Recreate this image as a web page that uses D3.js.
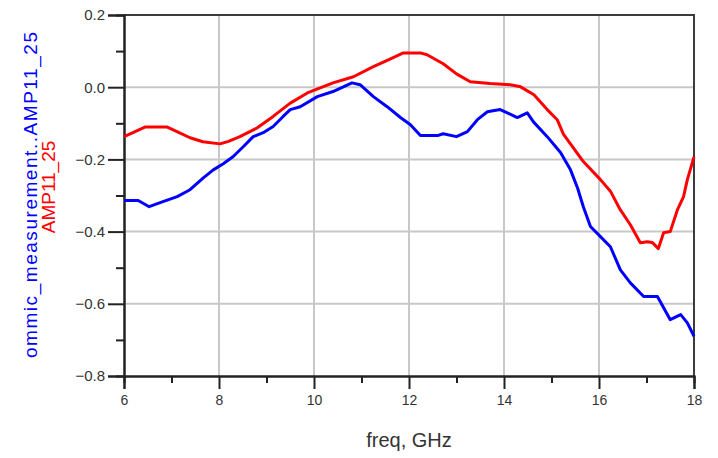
<!DOCTYPE html>
<html>
<head>
<meta charset="utf-8">
<script src="https://cdn.jsdelivr.net/npm/d3@7"></script>
<style>
  body { margin: 0; background: #fff; }
  svg { display: block; font-family: Arial, "Liberation Sans", sans-serif; }
</style>
</head>
<body>
<div id="chart"></div>
<script>
// measured curves, freq in GHz
var freqA = [6.0, 6.2, 6.45, 6.9, 7.15, 7.39, 7.66, 8.02, 8.2, 8.44, 8.8, 9.14, 9.5, 9.86, 10.13, 10.4, 10.83, 11.25, 11.6, 11.88,
  12.24, 12.38, 12.72, 13.0, 13.29, 13.71, 14.13, 14.35, 14.63, 14.91, 15.12, 15.25, 15.46, 15.67, 16.03, 16.24, 16.45, 16.66,
  16.87, 17.02, 17.12, 17.25, 17.36, 17.5, 17.65, 17.78, 17.86, 18.0];
var amp11 = [-0.137, -0.125, -0.11, -0.11, -0.125, -0.14, -0.151, -0.157, -0.15, -0.137, -0.113, -0.081, -0.044, -0.016, -0.002,
  0.012, 0.029, 0.057, 0.078, 0.095, 0.095, 0.09, 0.065, 0.037, 0.015, 0.01, 0.007, 0.001, -0.021, -0.062, -0.09, -0.13, -0.168,
  -0.206, -0.256, -0.288, -0.34, -0.381, -0.431, -0.428, -0.43, -0.447, -0.403, -0.40, -0.34, -0.303, -0.256, -0.193];

var freqB = [6.0, 6.3, 6.53, 6.82, 7.12, 7.39, 7.67, 7.88, 8.09, 8.3, 8.51, 8.72, 8.93, 9.14, 9.35, 9.5, 9.71, 10.07, 10.4, 10.8,
  10.97, 11.25, 11.54, 11.82, 12.03, 12.24, 12.6, 12.72, 13.0, 13.23, 13.44, 13.65, 13.92, 14.07, 14.28, 14.49, 14.62, 14.91,
  15.19, 15.4, 15.55, 15.67, 15.82, 16.03, 16.24, 16.45, 16.66, 16.94, 17.23, 17.5, 17.72, 17.86, 18.0];
var measAmp11 = [-0.314, -0.314, -0.331, -0.317, -0.303, -0.284, -0.251, -0.229, -0.212, -0.192, -0.165, -0.137, -0.126, -0.109,
  -0.081, -0.062, -0.054, -0.026, -0.012, 0.012, 0.007, -0.026, -0.054, -0.084, -0.104, -0.134, -0.134, -0.129, -0.137, -0.123,
  -0.09, -0.068, -0.062, -0.071, -0.084, -0.071, -0.096, -0.137, -0.181, -0.229, -0.28, -0.331, -0.386, -0.414, -0.442, -0.506,
  -0.542, -0.58, -0.58, -0.644, -0.63, -0.653, -0.69];

var xTicks = [6, 8, 10, 12, 14, 16, 18];
var xMinor = [7, 9, 11, 13, 15, 17];
var yTicks = [0.2, 0.0, -0.2, -0.4, -0.6, -0.8];
var yMinor = [0.1, -0.1, -0.3, -0.5, -0.7];

var width = 718, height = 458;
var plot = {left: 124, right: 694, top: 15, bottom: 376};

var svg = d3.select("#chart").append("svg")
  .attr("width", width)
  .attr("height", height);

var x = d3.scaleLinear().domain([6, 18]).range([plot.left, plot.right]);
var y = d3.scaleLinear().domain([-0.8, 0.2]).range([plot.bottom, plot.top]);

// grid
svg.append("g").selectAll("line")
  .data(xTicks.slice(1, -1))
  .enter().append("line")
    .attr("x1", function(d) { return x(d); })
    .attr("x2", function(d) { return x(d); })
    .attr("y1", plot.top).attr("y2", plot.bottom)
    .attr("stroke", "#c8c8c8").attr("stroke-width", 2);
svg.append("g").selectAll("line")
  .data(yTicks.slice(1, -1))
  .enter().append("line")
    .attr("x1", plot.left).attr("x2", plot.right)
    .attr("y1", function(d) { return y(d); })
    .attr("y2", function(d) { return y(d); })
    .attr("stroke", "#c8c8c8").attr("stroke-width", 2);

// top / right border
svg.append("path")
  .attr("d", "M" + plot.left + "," + plot.top + "H" + plot.right + "V" + plot.bottom)
  .attr("fill", "none").attr("stroke", "#3c3c3c").attr("stroke-width", 2);

// axes
var xAxis = svg.append("g")
  .attr("transform", "translate(0," + plot.bottom + ")")
  .call(d3.axisBottom(x).tickValues(xTicks).tickSize(13).tickPadding(6).tickFormat(d3.format("d")));
svg.append("g")
  .attr("transform", "translate(0," + plot.bottom + ")")
  .call(d3.axisBottom(x).tickValues(xMinor).tickSize(7).tickFormat(""));

var yAxis = svg.append("g")
  .attr("transform", "translate(" + plot.left + ",0)")
  .call(d3.axisLeft(y).tickValues(yTicks).tickSize(16).tickPadding(3).tickFormat(d3.format(".1f")));
svg.append("g")
  .attr("transform", "translate(" + plot.left + ",0)")
  .call(d3.axisLeft(y).tickValues(yMinor).tickSize(8).tickFormat(""));

svg.selectAll(".domain").attr("stroke", "#222").attr("stroke-width", 2);
svg.selectAll(".tick line").attr("stroke", "#222").attr("stroke-width", 2);
yAxis.attr("font-size", 15).selectAll(".tick text").attr("fill", "#333");
xAxis.attr("font-size", 14).selectAll(".tick text").attr("fill", "#333");

// curves
var line = d3.line()
  .x(function(d) { return x(d[0]); })
  .y(function(d) { return y(d[1]); });

svg.append("path")
  .datum(d3.zip(freqA, amp11))
  .attr("d", line)
  .attr("fill", "none").attr("stroke", "#ff0000").attr("stroke-width", 3)
  .attr("stroke-linejoin", "round");

svg.append("path")
  .datum(d3.zip(freqB, measAmp11))
  .attr("d", line)
  .attr("fill", "none").attr("stroke", "#0000ff").attr("stroke-width", 3)
  .attr("stroke-linejoin", "round");

// titles
svg.append("text")
  .attr("x", (plot.left + plot.right) / 2).attr("y", 447)
  .attr("text-anchor", "middle")
  .attr("fill", "#333")
  .style("font-size", "20px")
  .text("freq, GHz");

svg.append("text")
  .attr("transform", "translate(37,195) rotate(-90)")
  .attr("text-anchor", "middle")
  .attr("fill", "#0000ff")
  .attr("textLength", 326)
  .attr("lengthAdjust", "spacing")
  .style("font-size", "19px")
  .text("ommic_measurement..AMP11_25");

svg.append("text")
  .attr("transform", "translate(55,187) rotate(-90)")
  .attr("text-anchor", "middle")
  .attr("fill", "#ff0000")
  .style("font-size", "19px")
  .text("AMP11_25");
</script>
</body>
</html>
